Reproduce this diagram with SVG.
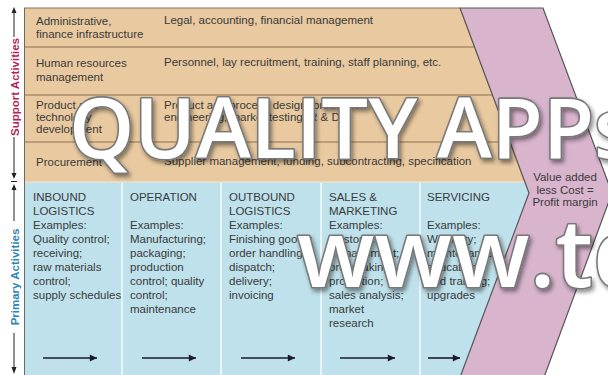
<svg xmlns="http://www.w3.org/2000/svg" width="608" height="375" viewBox="0 0 608 375">
<defs>
<style>
.t{font-family:"Liberation Sans",Arial,sans-serif;font-size:11.5px;fill:#3a3a3a}
.axis{font-family:"Liberation Sans",Arial,sans-serif;font-size:11.5px;font-weight:bold}
.row{stroke:#8f7050;stroke-width:1.2}
.col{stroke:#f2fafc;stroke-width:1.6}
.ax{stroke:#222;stroke-width:1}
.flow{stroke:#1a1a2a;stroke-width:1.6;fill:none;marker-end:url(#ah)}
.wm{font-family:"Open Sans","DejaVu Sans",sans-serif;font-weight:600;fill:#fff;stroke:#787878;stroke-width:3.2;paint-order:stroke fill;stroke-linejoin:round}
</style>
<marker id="ah" viewBox="0 0 10 10" refX="10" refY="5" markerWidth="6.5" markerHeight="4.5" orient="auto" markerUnits="strokeWidth">
<path d="M0,0 L10,5 L0,10 z" fill="#1a1a2a"/>
</marker>
<filter id="sh" x="-10%" y="-20%" width="120%" height="150%">
<feDropShadow dx="2" dy="3" stdDeviation="2" flood-color="#000" flood-opacity="0.45"/>
</filter>
</defs>
<rect width="608" height="375" fill="#fff"/>

<g id="support-block">
<polygon points="24,8 460,8 525,182 24,182" fill="#e8c9a0"/>
<line class="row" x1="24" y1="47" x2="474.5" y2="47"/>
<line class="row" x1="24" y1="95" x2="492.5" y2="95"/>
<line class="row" x1="24" y1="142" x2="510" y2="142"/>
<line x1="24" y1="8" x2="460" y2="8" stroke="#8a7560" stroke-width="1"/>
</g>

<g id="row-firm-infrastructure">
<text class="t" x="36" y="24.5">Administrative,</text>
<text class="t" x="36" y="37.5">finance infrastructure</text>
<text class="t" x="164" y="24">Legal, accounting, financial management</text>
</g>
<g id="row-hrm">
<text class="t" x="36" y="67">Human resources</text>
<text class="t" x="36" y="80.5">management</text>
<text class="t" x="164" y="66">Personnel, lay recruitment, training, staff planning, etc.</text>
</g>
<g id="row-technology">
<text class="t" x="36" y="109">Product and</text>
<text class="t" x="36" y="121">technology</text>
<text class="t" x="36" y="133">development</text>
<text class="t" x="164" y="109">Product and process design, production</text>
<text class="t" x="164" y="121">engineering, market testing, R &amp; D</text>
</g>
<g id="row-procurement">
<text class="t" x="36" y="166">Procurement</text>
<text class="t" x="164" y="165">Supplier management, funding, subcontracting, specification</text>
</g>

<g id="primary-block">
<polygon points="24,182 525,182 529,193 461,375 24,375" fill="#bee1eb"/>
<line x1="24" y1="182" x2="525" y2="182" stroke="#f4e8da" stroke-width="1"/>
<line class="col" x1="122" y1="183" x2="122" y2="375"/>
<line class="col" x1="221" y1="183" x2="221" y2="375"/>
<line class="col" x1="321" y1="183" x2="321" y2="375"/>
<line class="col" x1="420" y1="183" x2="420" y2="375"/>
</g>

<g id="frame-left">
<line x1="24.5" y1="8" x2="24.5" y2="375" stroke="#6a6a6a" stroke-width="1"/>
</g>

<g id="col-inbound">
<text class="t" x="33" y="201">INBOUND</text>
<text class="t" x="33" y="215">LOGISTICS</text>
<text class="t" x="33" y="229">Examples:</text>
<text class="t" x="33" y="243">Quality control;</text>
<text class="t" x="33" y="257">receiving;</text>
<text class="t" x="33" y="271">raw materials</text>
<text class="t" x="33" y="285">control;</text>
<text class="t" x="33" y="299">supply schedules</text>
</g>
<g id="col-operation">
<text class="t" x="130" y="201">OPERATION</text>
<text class="t" x="130" y="229">Examples:</text>
<text class="t" x="130" y="243">Manufacturing;</text>
<text class="t" x="130" y="257">packaging;</text>
<text class="t" x="130" y="271">production</text>
<text class="t" x="130" y="285">control; quality</text>
<text class="t" x="130" y="299">control;</text>
<text class="t" x="130" y="313">maintenance</text>
</g>
<g id="col-outbound">
<text class="t" x="229" y="201">OUTBOUND</text>
<text class="t" x="229" y="215">LOGISTICS</text>
<text class="t" x="229" y="229">Examples:</text>
<text class="t" x="229" y="243">Finishing goods;</text>
<text class="t" x="229" y="257">order handling;</text>
<text class="t" x="229" y="271">dispatch;</text>
<text class="t" x="229" y="285">delivery;</text>
<text class="t" x="229" y="299">invoicing</text>
</g>
<g id="col-sales">
<text class="t" x="329" y="201">SALES &amp;</text>
<text class="t" x="329" y="215">MARKETING</text>
<text class="t" x="329" y="229">Examples:</text>
<text class="t" x="329" y="243">Customer</text>
<text class="t" x="329" y="257">management;</text>
<text class="t" x="329" y="271">order taking;</text>
<text class="t" x="329" y="285">promotion;</text>
<text class="t" x="329" y="299">sales analysis;</text>
<text class="t" x="329" y="313">market</text>
<text class="t" x="329" y="327">research</text>
</g>
<g id="col-servicing">
<text class="t" x="427" y="201">SERVICING</text>
<text class="t" x="427" y="229">Examples:</text>
<text class="t" x="427" y="243">Warranty;</text>
<text class="t" x="427" y="257">maintenance;</text>
<text class="t" x="427" y="271">education</text>
<text class="t" x="427" y="285">and training;</text>
<text class="t" x="427" y="299">upgrades</text>
</g>

<g id="margin">
<polygon points="460,8 543,8 612,193 543,380 459,380 529,193" fill="#d8b4cd" stroke="#555" stroke-width="1.2" stroke-linejoin="miter"/>
<text class="t" x="565" y="181" text-anchor="middle" fill="#3a2a3a">Value added</text>
<text class="t" x="565" y="194" text-anchor="middle">less Cost =</text>
<text class="t" x="565" y="206" text-anchor="middle">Profit margin</text>
</g>

<g id="axis-support">
<text class="axis" transform="translate(18.5,87) rotate(-90)" text-anchor="middle" fill="#b3245a">Support Activities</text>
</g>
<g id="axis-primary">
<text class="axis" transform="translate(18.5,277) rotate(-90)" text-anchor="middle" fill="#2e86b8">Primary Activities</text>
</g>

<g id="connectors">
<line class="ax" x1="14" y1="12" x2="14" y2="37"/>
<line class="ax" x1="14" y1="137" x2="14" y2="174"/>
<path d="M14,7 L11.5,13 L16.5,13 z" fill="#222"/>
<path d="M14,179 L11.5,173 L16.5,173 z" fill="#222"/>
<line class="ax" x1="11" y1="181.5" x2="17" y2="181.5"/>
<path d="M14,184 L11.5,190 L16.5,190 z" fill="#222"/>
<line class="ax" x1="14" y1="189" x2="14" y2="221"/>
<line class="ax" x1="14" y1="333" x2="14" y2="368"/>
<path d="M14,374 L11.5,367 L16.5,367 z" fill="#222"/>
<line class="flow" x1="43" y1="358" x2="97" y2="358"/>
<line class="flow" x1="142" y1="358" x2="196" y2="358"/>
<line class="flow" x1="241" y1="358" x2="295" y2="358"/>
<line class="flow" x1="340" y1="358" x2="395" y2="358"/>
<line class="flow" x1="428" y1="358" x2="460" y2="358"/>
</g>

<g id="watermark" filter="url(#sh)">
<text class="wm" x="69" y="158" font-size="83">QUALITY <tspan x="437">APPs</tspan></text>
<text class="wm" x="297" y="287" font-size="95">www.tq</text>
</g>
</svg>
